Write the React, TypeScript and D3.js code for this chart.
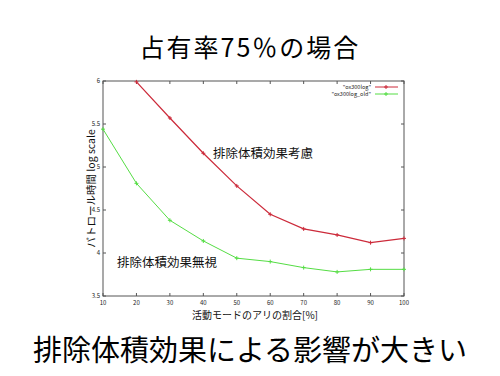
import React from "react";
import * as d3 from "d3";

const xValues = [10, 20, 30, 40, 50, 60, 70, 80, 90, 100];
const redX = [20, 30, 40, 50, 60, 70, 80, 90, 100];
const redY = [5.99, 5.57, 5.16, 4.78, 4.45, 4.28, 4.21, 4.12, 4.17];
const greenX = [10, 20, 30, 40, 50, 60, 70, 80, 90, 100];
const greenY = [5.44, 4.81, 4.38, 4.14, 3.94, 3.9, 3.83, 3.78, 3.81, 3.81];
const yTicks = [3.5, 4, 4.5, 5, 5.5, 6];
const seriesNames = ['"ox300log"', '"ox300log_old"'];

const W = 500, H = 376;
const left = 103, right = 404, top = 81, bottom = 296;
const FONT = "'Noto Sans CJK JP', 'Noto Sans', sans-serif";

export default function App() {
  const x = d3.scaleLinear().domain([10, 100]).range([left, right]);
  const y = d3.scaleLinear().domain([3.5, 6]).range([bottom, top]);
  const line = d3.line<[number, number]>().x(d => x(d[0])).y(d => y(d[1]));
  const red = redX.map((v, i) => [v, redY[i]] as [number, number]);
  const green = greenX.map((v, i) => [v, greenY[i]] as [number, number]);
  const redC = "#cc2a3a", greenC = "#55dd44";
  const marker = (cx: number, cy: number, c: string, k: string) => (
    <g key={k} stroke={c} strokeWidth={1}>
      <line x1={cx - 2} x2={cx + 2} y1={cy} y2={cy} />
      <line x1={cx} x2={cx} y1={cy - 2} y2={cy + 2} />
    </g>
  );
  return (
    <div style={{ margin: -8 }}>
      <svg width={W} height={H} style={{ display: "block", background: "#fff" }}>
        <text x={250} y={57} textAnchor="middle" fontFamily={FONT} fontSize={25} letterSpacing={2} fill="#000">占有率75％の場合</text>
        <rect x={left} y={top} width={right - left} height={bottom - top} fill="none" stroke="#555" strokeWidth={1} />
        {xValues.map(v => (
          <g key={"x" + v}>
            <line x1={x(v)} x2={x(v)} y1={bottom} y2={bottom - 3} stroke="#555" />
            <line x1={x(v)} x2={x(v)} y1={top} y2={top + 3} stroke="#555" />
            <text x={x(v)} y={305} textAnchor="middle" fontFamily={FONT} fontSize={6} fill="#222">{v}</text>
          </g>
        ))}
        {yTicks.map(v => (
          <g key={"y" + v}>
            <line x1={left} x2={left + 3} y1={y(v)} y2={y(v)} stroke="#555" />
            <line x1={right} x2={right - 3} y1={y(v)} y2={y(v)} stroke="#555" />
            <text x={left - 3} y={y(v) + 2} textAnchor="end" fontFamily={FONT} fontSize={6} fill="#222">{v}</text>
          </g>
        ))}
        <path d={line(green) || ""} fill="none" stroke={greenC} strokeWidth={1} />
        <path d={line(red) || ""} fill="none" stroke={redC} strokeWidth={1.2} />
        {green.map((d, i) => marker(x(d[0]), y(d[1]), greenC, "g" + i))}
        {red.map((d, i) => marker(x(d[0]), y(d[1]), redC, "r" + i))}
        <text x={371} y={89} textAnchor="end" fontFamily={FONT} fontSize={5.5} fill="#222">{seriesNames[0]}</text>
        <line x1={375} x2={398} y1={87} y2={87} stroke={redC} />
        {marker(386, 87, redC, "lr")}
        <text x={371} y={96} textAnchor="end" fontFamily={FONT} fontSize={5.5} fill="#222">{seriesNames[1]}</text>
        <line x1={375} x2={398} y1={94} y2={94} stroke={greenC} />
        {marker(386, 94, greenC, "lg")}
        <text x={213} y={158} fontFamily={FONT} fontSize={12.5} fill="#111">排除体積効果考慮</text>
        <text x={117} y={267} fontFamily={FONT} fontSize={12.5} fill="#111">排除体積効果無視</text>
        <text transform={`translate(95,${(top + bottom) / 2}) rotate(-90)`} textAnchor="middle" fontFamily={FONT} fontSize={10.5} fill="#111">パトロール時間 log scale</text>
        <text x={255} y={319} textAnchor="middle" fontFamily={FONT} fontSize={10} fill="#111">活動モードのアリの割合[%]</text>
        <text x={250} y={361} textAnchor="middle" fontFamily={FONT} fontSize={29} fill="#000">排除体積効果による影響が大きい</text>
      </svg>
    </div>
  );
}
